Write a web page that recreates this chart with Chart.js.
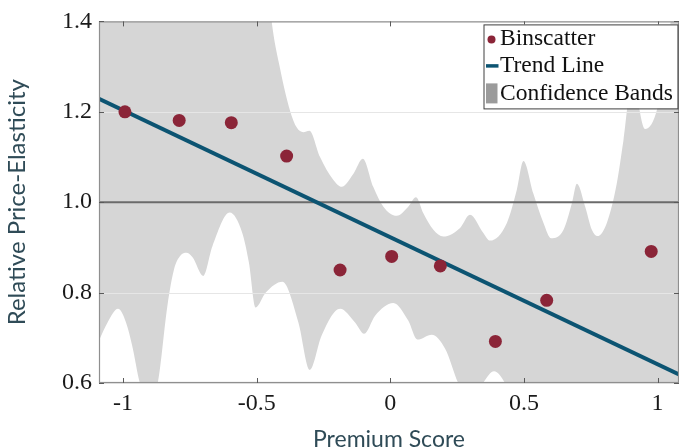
<!DOCTYPE html>
<html>
<head>
<meta charset="utf-8">
<script src="https://cdn.jsdelivr.net/npm/chart.js@4/dist/chart.umd.min.js"></script>
<style>
  html, body { margin: 0; padding: 0; background: #ffffff; }
  canvas { display: block; }
</style>
</head>
<body>
<canvas id="chart" width="679" height="448"></canvas>
<script>
// Binned means of relative price-elasticity by premium score
const binX = [-0.993, -0.790, -0.595, -0.388, -0.188, 0.005, 0.187, 0.393, 0.585, 0.976];
const binY = [1.200, 1.181, 1.176, 1.102, 0.850, 0.880, 0.859, 0.692, 0.783, 0.891];

// Linear trend, evaluated at both ends of the x range
const trendX = [-1.09, 1.08];
const trendY = [1.229, 0.619];

// Reference level of 1
const refX = [-1.09, 1.08];
const refY = [1.0, 1.0];

// Upper confidence bound
const upperX = [-1.090, -0.460, -0.444, -0.413, -0.375, -0.350, -0.326, -0.303, -0.263, -0.213,
                -0.182, -0.138, -0.103, -0.064, -0.026, 0.024, 0.067, 0.096, 0.124, 0.161,
                0.198, 0.261, 0.298, 0.348, 0.373, 0.436, 0.473, 0.498, 0.535, 0.573,
                0.602, 0.648, 0.679, 0.698, 0.729, 0.754, 0.775, 0.810, 0.847, 0.872,
                0.905, 0.953, 1.000, 1.040, 1.080];
const upperY = [1.650, 1.500, 1.400, 1.297, 1.202, 1.165, 1.155, 1.158, 1.100, 1.049,
                1.034, 1.063, 1.096, 1.034, 0.990, 0.970, 0.990, 1.011, 0.975, 0.939,
                0.924, 0.943, 0.972, 0.932, 0.915, 0.954, 1.027, 1.091, 1.019, 0.954,
                0.920, 0.939, 0.997, 1.041, 0.990, 0.939, 0.925, 0.954, 1.041, 1.136,
                1.270, 1.162, 1.210, 1.360, 1.550];

// Lower confidence bound
const lowerX = [-1.090, -1.057, -1.019, -0.989, -0.966, -0.937, -0.903, -0.870, -0.834, -0.809,
                -0.785, -0.763, -0.740, -0.700, -0.666, -0.601, -0.554, -0.529, -0.504, -0.466,
                -0.404, -0.344, -0.301, -0.257, -0.188, -0.132, -0.098, -0.057, 0.011, 0.067,
                0.101, 0.155, 0.205, 0.254, 0.299, 0.347, 0.388, 0.429, 0.485, 0.700, 1.080];
const lowerY = [0.694, 0.735, 0.764, 0.734, 0.683, 0.600, 0.560, 0.600, 0.771, 0.852,
                0.882, 0.888, 0.878, 0.837, 0.902, 0.977, 0.932, 0.866, 0.767, 0.800,
                0.824, 0.734, 0.629, 0.705, 0.764, 0.734, 0.709, 0.749, 0.777, 0.738,
                0.696, 0.707, 0.676, 0.600, 0.550, 0.600, 0.626, 0.600, 0.520, 0.480, 0.450];

// Axis ticks
const xTicks = [-1, -0.5, 0, 0.5, 1];
const xTickLabels = ['-1', '-0.5', '0', '0.5', '1'];
const yTicks = [0.6, 0.8, 1.0, 1.2, 1.4];
const yTickLabels = ['0.6', '0.8', '1.0', '1.2', '1.4'];

const xRange = [-1.09, 1.08];
const yRange = [0.6, 1.4];

const COLORS = {
  bins: '#8b2538',
  trend: '#0c5472',
  ref: '#6b6b6b',
  band: '#d6d6d6',
  bandKey: '#9b9b9b',
  grid: '#e6e6e6',
  frame: '#8f8f8f',
  tickMark: '#5a5a5a',
  title: '#2f4b57'
};
const SERIF = '"Liberation Serif", "Times New Roman", serif';
const SANS = 'Lato, "Open Sans", sans-serif';

const toPoints = (xs, ys) => xs.map((x, i) => ({ x, y: ys[i] }));

// Horizontal grid lines, drawn over the confidence band but under the lines and markers
const bandGrid = {
  id: 'bandGrid',
  afterDatasetDraw(chart, args) {
    if (args.index !== 4) return;
    const { ctx, chartArea: a, scales: { y } } = chart;
    ctx.save();
    ctx.strokeStyle = COLORS.grid;
    ctx.lineWidth = 1;
    y.ticks.forEach(t => {
      const py = Math.round(y.getPixelForValue(t.value)) + 0.5;
      ctx.beginPath();
      ctx.moveTo(a.left, py);
      ctx.lineTo(a.right, py);
      ctx.stroke();
    });
    ctx.restore();
  }
};

// Boxed axes with inward tick marks on all four sides
const boxFrame = {
  id: 'boxFrame',
  afterDatasetsDraw(chart) {
    const { ctx, chartArea: a, scales: { x, y } } = chart;
    ctx.save();
    ctx.strokeStyle = COLORS.frame;
    ctx.lineWidth = 1.2;
    ctx.strokeRect(a.left + 0.5, a.top + 0.5, a.right - a.left - 1, a.bottom - a.top - 1);
    ctx.strokeStyle = COLORS.tickMark;
    ctx.lineWidth = 1;
    const len = 5;
    x.ticks.forEach(t => {
      const px = Math.round(x.getPixelForValue(t.value)) + 0.5;
      ctx.beginPath();
      ctx.moveTo(px, a.bottom); ctx.lineTo(px, a.bottom - len);
      ctx.moveTo(px, a.top); ctx.lineTo(px, a.top + len);
      ctx.stroke();
    });
    y.ticks.forEach(t => {
      const py = Math.round(y.getPixelForValue(t.value)) + 0.5;
      ctx.beginPath();
      ctx.moveTo(a.left, py); ctx.lineTo(a.left + len, py);
      ctx.moveTo(a.right, py); ctx.lineTo(a.right - len, py);
      ctx.stroke();
    });
    ctx.restore();
  }
};

// Boxed legend in the upper right corner of the plot
const cornerLegend = {
  id: 'cornerLegend',
  afterDraw(chart) {
    const { ctx, chartArea: a } = chart;
    const w = 194, h = 84;
    const left = a.right - w - 1.5, top = a.top + 3;
    ctx.save();
    ctx.fillStyle = '#ffffff';
    ctx.fillRect(left, top, w, h);
    ctx.strokeStyle = '#404040';
    ctx.lineWidth = 1;
    ctx.strokeRect(left + 0.5, top + 0.5, w, h);

    // markers
    ctx.fillStyle = COLORS.bins;
    ctx.beginPath();
    ctx.arc(left + 8, top + 15, 4, 0, Math.PI * 2);
    ctx.fill();
    ctx.strokeStyle = COLORS.trend;
    ctx.lineWidth = 3.5;
    ctx.beginPath();
    ctx.moveTo(left + 2.5, top + 41.5);
    ctx.lineTo(left + 15, top + 41.5);
    ctx.stroke();
    ctx.fillStyle = COLORS.bandKey;
    ctx.fillRect(left + 2.5, top + 59, 11.5, 20);

    // labels
    const names = [chart.data.datasets[0].label, chart.data.datasets[1].label, chart.data.datasets[4].label];
    ctx.fillStyle = '#111111';
    ctx.font = '23.5px ' + SERIF;
    ctx.textBaseline = 'alphabetic';
    ctx.textAlign = 'left';
    [21, 47.5, 75.5].forEach((dy, i) => ctx.fillText(names[i], left + 16.5, top + dy));
    ctx.restore();
  }
};

new Chart(document.getElementById('chart'), {
  type: 'line',
  data: {
    datasets: [
      {
        label: 'Binscatter',
        data: toPoints(binX, binY),
        showLine: false,
        pointRadius: 6.5,
        pointHoverRadius: 6.5,
        pointBorderWidth: 0,
        pointBackgroundColor: COLORS.bins,
        borderColor: COLORS.bins,
        backgroundColor: COLORS.bins
      },
      {
        label: 'Trend Line',
        data: toPoints(trendX, trendY),
        borderColor: COLORS.trend,
        borderWidth: 4,
        pointRadius: 0,
        fill: false
      },
      {
        label: 'Reference',
        data: toPoints(refX, refY),
        borderColor: COLORS.ref,
        borderWidth: 2,
        pointRadius: 0,
        fill: false
      },
      {
        label: 'Upper bound',
        data: toPoints(upperX, upperY),
        borderColor: 'rgba(0,0,0,0)',
        borderWidth: 0,
        pointRadius: 0,
        cubicInterpolationMode: 'monotone',
        fill: false
      },
      {
        label: 'Confidence Bands',
        data: toPoints(lowerX, lowerY),
        borderColor: 'rgba(0,0,0,0)',
        borderWidth: 0,
        pointRadius: 0,
        cubicInterpolationMode: 'monotone',
        backgroundColor: COLORS.band,
        fill: '-1'
      }
    ]
  },
  options: {
    responsive: false,
    animation: false,
    devicePixelRatio: 1,
    events: [],
    layout: { autoPadding: false, padding: { top: 18, right: 0, bottom: 0, left: 0 } },
    plugins: {
      legend: { display: false },
      tooltip: { enabled: false }
    },
    scales: {
      x: {
        type: 'linear',
        min: xRange[0],
        max: xRange[1],
        afterBuildTicks: s => { s.ticks = xTicks.map(v => ({ value: v })); },
        afterFit: s => { s.height = 65; },
        grid: { display: false, drawTicks: false },
        border: { display: false },
        ticks: {
          autoSkip: false,
          maxRotation: 0,
          padding: 6,
          color: '#1a1a1a',
          font: { family: SERIF, size: 24 },
          callback: (v, i) => xTickLabels[i]
        },
        title: {
          display: true,
          text: 'Premium Score',
          color: COLORS.title,
          font: { family: SANS, size: 23, lineHeight: 0.7 },
          padding: { top: 0, bottom: 0 }
        }
      },
      y: {
        min: yRange[0],
        max: yRange[1],
        afterBuildTicks: s => { s.ticks = yTicks.map(v => ({ value: v })); },
        afterFit: s => { s.width = 99; },
        grid: { display: false, drawTicks: false },
        border: { display: false },
        ticks: {
          padding: 7,
          color: '#1a1a1a',
          font: { family: SERIF, size: 24 },
          callback: (v, i) => yTickLabels[i]
        },
        title: {
          display: true,
          text: 'Relative Price-Elasticity',
          color: COLORS.title,
          font: { family: SANS, size: 24, lineHeight: 1 },
          padding: { top: 5, bottom: 0 }
        }
      }
    }
  },
  plugins: [bandGrid, boxFrame, cornerLegend]
});
</script>
</body>
</html>
